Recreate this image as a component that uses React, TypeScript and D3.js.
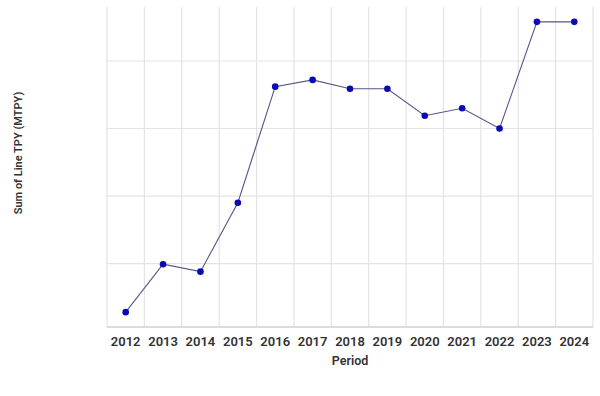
import React from 'react'
import * as d3 from 'd3'

const years = ['2012', '2013', '2014', '2015', '2016', '2017', '2018', '2019', '2020', '2021', '2022', '2023', '2024']
const tpyValues = [28, 99, 88, 190, 362, 372, 359, 359, 319, 330, 300, 458, 458]
const yGridValues = [100, 200, 300, 400]

export default function App() {
  const width = 600
  const height = 396
  const margin = { top: 7, right: 7, bottom: 69, left: 107 }
  const innerWidth = width - margin.left - margin.right
  const innerHeight = height - margin.top - margin.bottom

  const xScale = d3.scaleBand().domain(years).range([0, innerWidth]).padding(0)
  const yScale = d3.scaleLinear().domain([6, 480]).range([innerHeight, 0])

  const data = years.map((y, i) => ({ year: y, value: tpyValues[i] }))
  const cx = (d: { year: string }) => (xScale(d.year) || 0) + xScale.bandwidth() / 2

  const line = d3
    .line<{ year: string; value: number }>()
    .x(cx)
    .y((d) => yScale(d.value))

  const boundaries = years.map((y) => xScale(y) || 0).concat([innerWidth])

  return (
    <svg
      width={width}
      height={height}
      style={{ position: 'absolute', left: 0, top: 0, fontFamily: 'Roboto, sans-serif' }}
    >
      <rect width={width} height={height} fill="#fff" />
      <g transform={`translate(${margin.left},${margin.top})`}>
        {/* vertical grid */}
        {boundaries.map((x, i) => (
          <line key={`v${i}`} x1={x} x2={x} y1={0} y2={innerHeight} stroke="#e3e3e3" strokeWidth={1.2} />
        ))}
        {/* horizontal grid */}
        {yGridValues.map((v) => (
          <line key={`h${v}`} x1={0} x2={innerWidth} y1={yScale(v)} y2={yScale(v)} stroke="#e3e3e3" strokeWidth={1.2} />
        ))}
        <line x1={0} x2={innerWidth} y1={innerHeight} y2={innerHeight} stroke="#dcdcdc" strokeWidth={2} />

        <path d={line(data) || ''} fill="none" stroke="#55558c" strokeWidth={1.1} />
        {data.map((d) => (
          <circle key={d.year} cx={cx(d)} cy={yScale(d.value)} r={3.3} fill="#0a0ab4" />
        ))}

        {/* x tick labels */}
        {years.map((y) => (
          <text
            key={`t${y}`}
            x={cx({ year: y })}
            y={innerHeight + 19}
            textAnchor="middle"
            fontSize={13}
            fontWeight={600}
            fill="#333"
          >
            {y}
          </text>
        ))}
        <text
          x={innerWidth / 2}
          y={innerHeight + 38}
          textAnchor="middle"
          fontSize={12.5}
          fontWeight={600}
          fill="#333"
        >
          Period
        </text>
      </g>
      <text
        transform={`translate(22,153) rotate(-90)`}
        textAnchor="middle"
        fontSize={11}
        fontWeight={600}
        fill="#333"
      >
        Sum of Line TPY (MTPY)
      </text>
    </svg>
  )
}
